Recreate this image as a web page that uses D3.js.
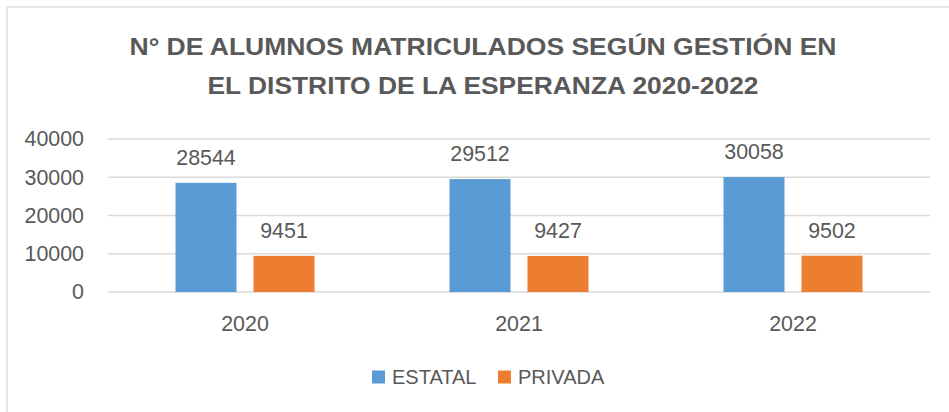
<!DOCTYPE html>
<html>
<head>
<meta charset="utf-8">
<script src="https://cdn.jsdelivr.net/npm/d3@7"></script>
<style>
  html, body { margin: 0; padding: 0; background: #fff; }
  svg { display: block; }
  text { font-family: "Liberation Sans", Arial, sans-serif; fill: #595959; }
</style>
</head>
<body>
<svg id="chart" width="949" height="412"></svg>
<script>
const titleLines = ["N° DE ALUMNOS MATRICULADOS SEGÚN GESTIÓN EN", "EL DISTRITO DE LA ESPERANZA 2020-2022"];
const categories = ["2020", "2021", "2022"];
const seriesNames = ["ESTATAL", "PRIVADA"];
const estatal = [28544, 29512, 30058];
const privada = [9451, 9427, 9502];
const yTicks = [0, 10000, 20000, 30000, 40000];
const colors = ["#5B9BD5", "#ED7D31"];

const svg = d3.select("#chart");
const W = 949, H = 412;
const plot = { left: 108, right: 930, top: 139, bottom: 292 };

// frame
svg.append("rect").attr("x", 7).attr("y", 7).attr("width", W + 10).attr("height", H + 10)
  .attr("fill", "#fff").attr("stroke", "#d9d9d9").attr("stroke-width", 1.3);

// title
const titleY = [55, 94];
const titleW = [707, 551];
titleLines.forEach((t, i) => {
  svg.append("text").attr("x", 483).attr("y", titleY[i]).attr("text-anchor", "middle")
    .attr("font-size", 23.5).attr("font-weight", "bold")
    .attr("textLength", titleW[i]).attr("lengthAdjust", "spacingAndGlyphs")
    .text(t);
});

const y = d3.scaleLinear().domain([0, 40000]).range([plot.bottom, plot.top]);
const x0 = d3.scaleBand().domain(categories).range([plot.left, plot.right])
  .paddingInner(0.4927).paddingOuter(0.2464);
const x1 = d3.scaleBand().domain(seriesNames).range([0, x0.bandwidth()]).paddingInner(0.218);

// gridlines
svg.append("g").selectAll("line").data(yTicks).join("line")
  .attr("x1", plot.left).attr("x2", plot.right)
  .attr("y1", d => y(d)).attr("y2", d => y(d))
  .attr("stroke", "#d9d9d9").attr("stroke-width", 1.3);

// y axis labels
const yAxis = d3.axisLeft(y).tickValues(yTicks).tickSize(0).tickPadding(0).tickFormat(d3.format("d"));
const gy = svg.append("g").attr("transform", `translate(84,0)`).call(yAxis);
gy.select(".domain").remove();
gy.selectAll("text").attr("font-size", 21.4).attr("fill", "#595959")
  .style("font-family", '"Liberation Sans", Arial, sans-serif');

// x axis labels
const xAxis = d3.axisBottom(x0).tickSize(0).tickPadding(0);
const gx = svg.append("g").attr("transform", `translate(0,316)`).call(xAxis);
gx.select(".domain").remove();
gx.selectAll("text").attr("font-size", 21.4).attr("fill", "#595959")
  .style("font-family", '"Liberation Sans", Arial, sans-serif');

// bars
const data = categories.map((c, i) => ({ cat: c, vals: [estatal[i], privada[i]] }));
const groups = svg.append("g").selectAll("g").data(data).join("g")
  .attr("transform", d => `translate(${x0(d.cat)},0)`);
groups.selectAll("rect").data(d => d.vals.map((v, j) => ({ s: seriesNames[j], v, j }))).join("rect")
  .attr("x", d => x1(d.s)).attr("width", x1.bandwidth())
  .attr("y", d => y(d.v)).attr("height", d => y(0) - y(d.v))
  .attr("fill", d => colors[d.j]);
groups.selectAll("text").data(d => d.vals.map((v, j) => ({ s: seriesNames[j], v, j }))).join("text")
  .attr("x", d => x1(d.s) + x1.bandwidth() / 2).attr("y", d => y(d.v) - 18)
  .attr("text-anchor", "middle").attr("font-size", 21.4)
  .text(d => d.v);

// legend
const legendX = [372, 498];
seriesNames.forEach((s, i) => {
  svg.append("rect").attr("x", legendX[i]).attr("y", 370.5).attr("width", 13).attr("height", 13)
    .attr("fill", colors[i]);
  svg.append("text").attr("x", legendX[i] + 20).attr("y", 384).attr("font-size", 20)
    .text(s);
});
</script>
</body>
</html>
